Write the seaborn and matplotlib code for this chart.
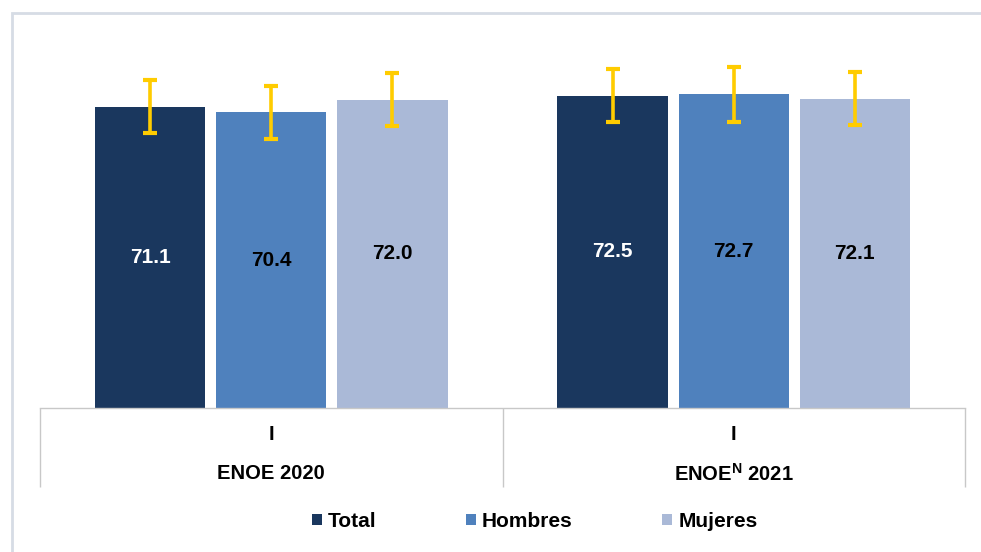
import numpy as np
import pandas as pd
import seaborn as sns
import matplotlib.pyplot as plt
from matplotlib.patches import Rectangle

# data
periodos = ["ENOE 2020", "ENOE$^{\\mathbf{N}}$ 2021"]
trimestres = ["I", "I"]
grupos = ["Total", "Hombres", "Mujeres"]
total = [71.1, 72.5]
hombres = [70.4, 72.7]
mujeres = [72.0, 72.1]
# half-width of the confidence interval (yellow bars)
err_total = [3.4, 3.4]
err_hombres = [3.4, 3.5]
err_mujeres = [3.4, 3.4]

colores = ["#1A375E", "#4F81BD", "#AAB9D7"]
label_colors = ["white", "black", "black"]
AMARILLO = "#FFCC00"
GRIS = "#C8C8C8"

sns.set_theme(style="white")
plt.rcParams["font.family"] = ["Liberation Sans", "DejaVu Sans"]
plt.rcParams["text.color"] = "black"
plt.rcParams["mathtext.fontset"] = "custom"
plt.rcParams["mathtext.rm"] = "Liberation Sans"
plt.rcParams["mathtext.bf"] = "Liberation Sans:bold"

df = pd.DataFrame({
    "periodo": np.repeat(periodos, 3),
    "grupo": grupos * 2,
    "valor": [v for trio in zip(total, hombres, mujeres) for v in trio],
})

fig = plt.figure(figsize=(9.81, 5.52), dpi=100)
ax = fig.add_axes([40 / 981, 144 / 552, 925 / 981, 378 / 552])

sns.barplot(data=df, x="periodo", y="valor", hue="grupo", hue_order=grupos,
            palette=colores, width=0.786, gap=0.09, errorbar=None,
            saturation=1, ax=ax, edgecolor="none")

errores = [err_total, err_hombres, err_mujeres]
for cont, errs, lc in zip(ax.containers, errores, label_colors):
    xs = [b.get_x() + b.get_width() / 2 for b in cont]
    ys = [b.get_height() for b in cont]
    ax.errorbar(xs, ys, yerr=errs, fmt="none", ecolor=AMARILLO,
                elinewidth=2.6, capsize=4.8, capthick=3, zorder=5)
    ax.bar_label(cont, labels=[f"{v:.1f}" for v in ys], label_type="center",
                 color=lc, fontsize=15, fontweight="bold")

ax.set_xlim(-0.5, 1.5)
ax.set_ylim(32.6, 80.9)
ax.set_xlabel("")
ax.set_ylabel("")
ax.set_yticks([])

for s in ["left", "right", "top"]:
    ax.spines[s].set_visible(False)
ax.spines["bottom"].set_color(GRIS)
ax.spines["bottom"].set_linewidth(1)

# quarter labels and group separators
ax.set_xticks([0, 1], labels=trimestres)
ax.tick_params(axis="x", which="major", length=0, pad=12, labelsize=14.5,
               labelcolor="black")
for t in ax.get_xticklabels():
    t.set_fontweight("bold")
ax.set_xticks([-0.5, 0.5, 1.5], minor=True)
ax.tick_params(axis="x", which="minor", bottom=True, length=57, width=1,
               color=GRIS)

for i, p in enumerate(periodos):
    ax.text(i, -0.1746, p, transform=ax.get_xaxis_transform(), ha="center",
            va="center", fontsize=14.5, fontweight="bold")

sns.move_legend(ax, "center", bbox_to_anchor=(0.535, -0.300), ncol=3,
                frameon=False, title=None, fontsize=15, handlelength=0.48,
                handleheight=0.48, handletextpad=0.28, columnspacing=4.3)
for t in ax.get_legend().get_texts():
    t.set_fontweight("bold")

fig.add_artist(Rectangle((11.5 / 981, -0.05), 1.2, (552 - 13) / 552 + 0.05,
                         transform=fig.transFigure, fill=False,
                         edgecolor="#D6DCE5", linewidth=2))

fig.savefig("out.png", dpi=100)
